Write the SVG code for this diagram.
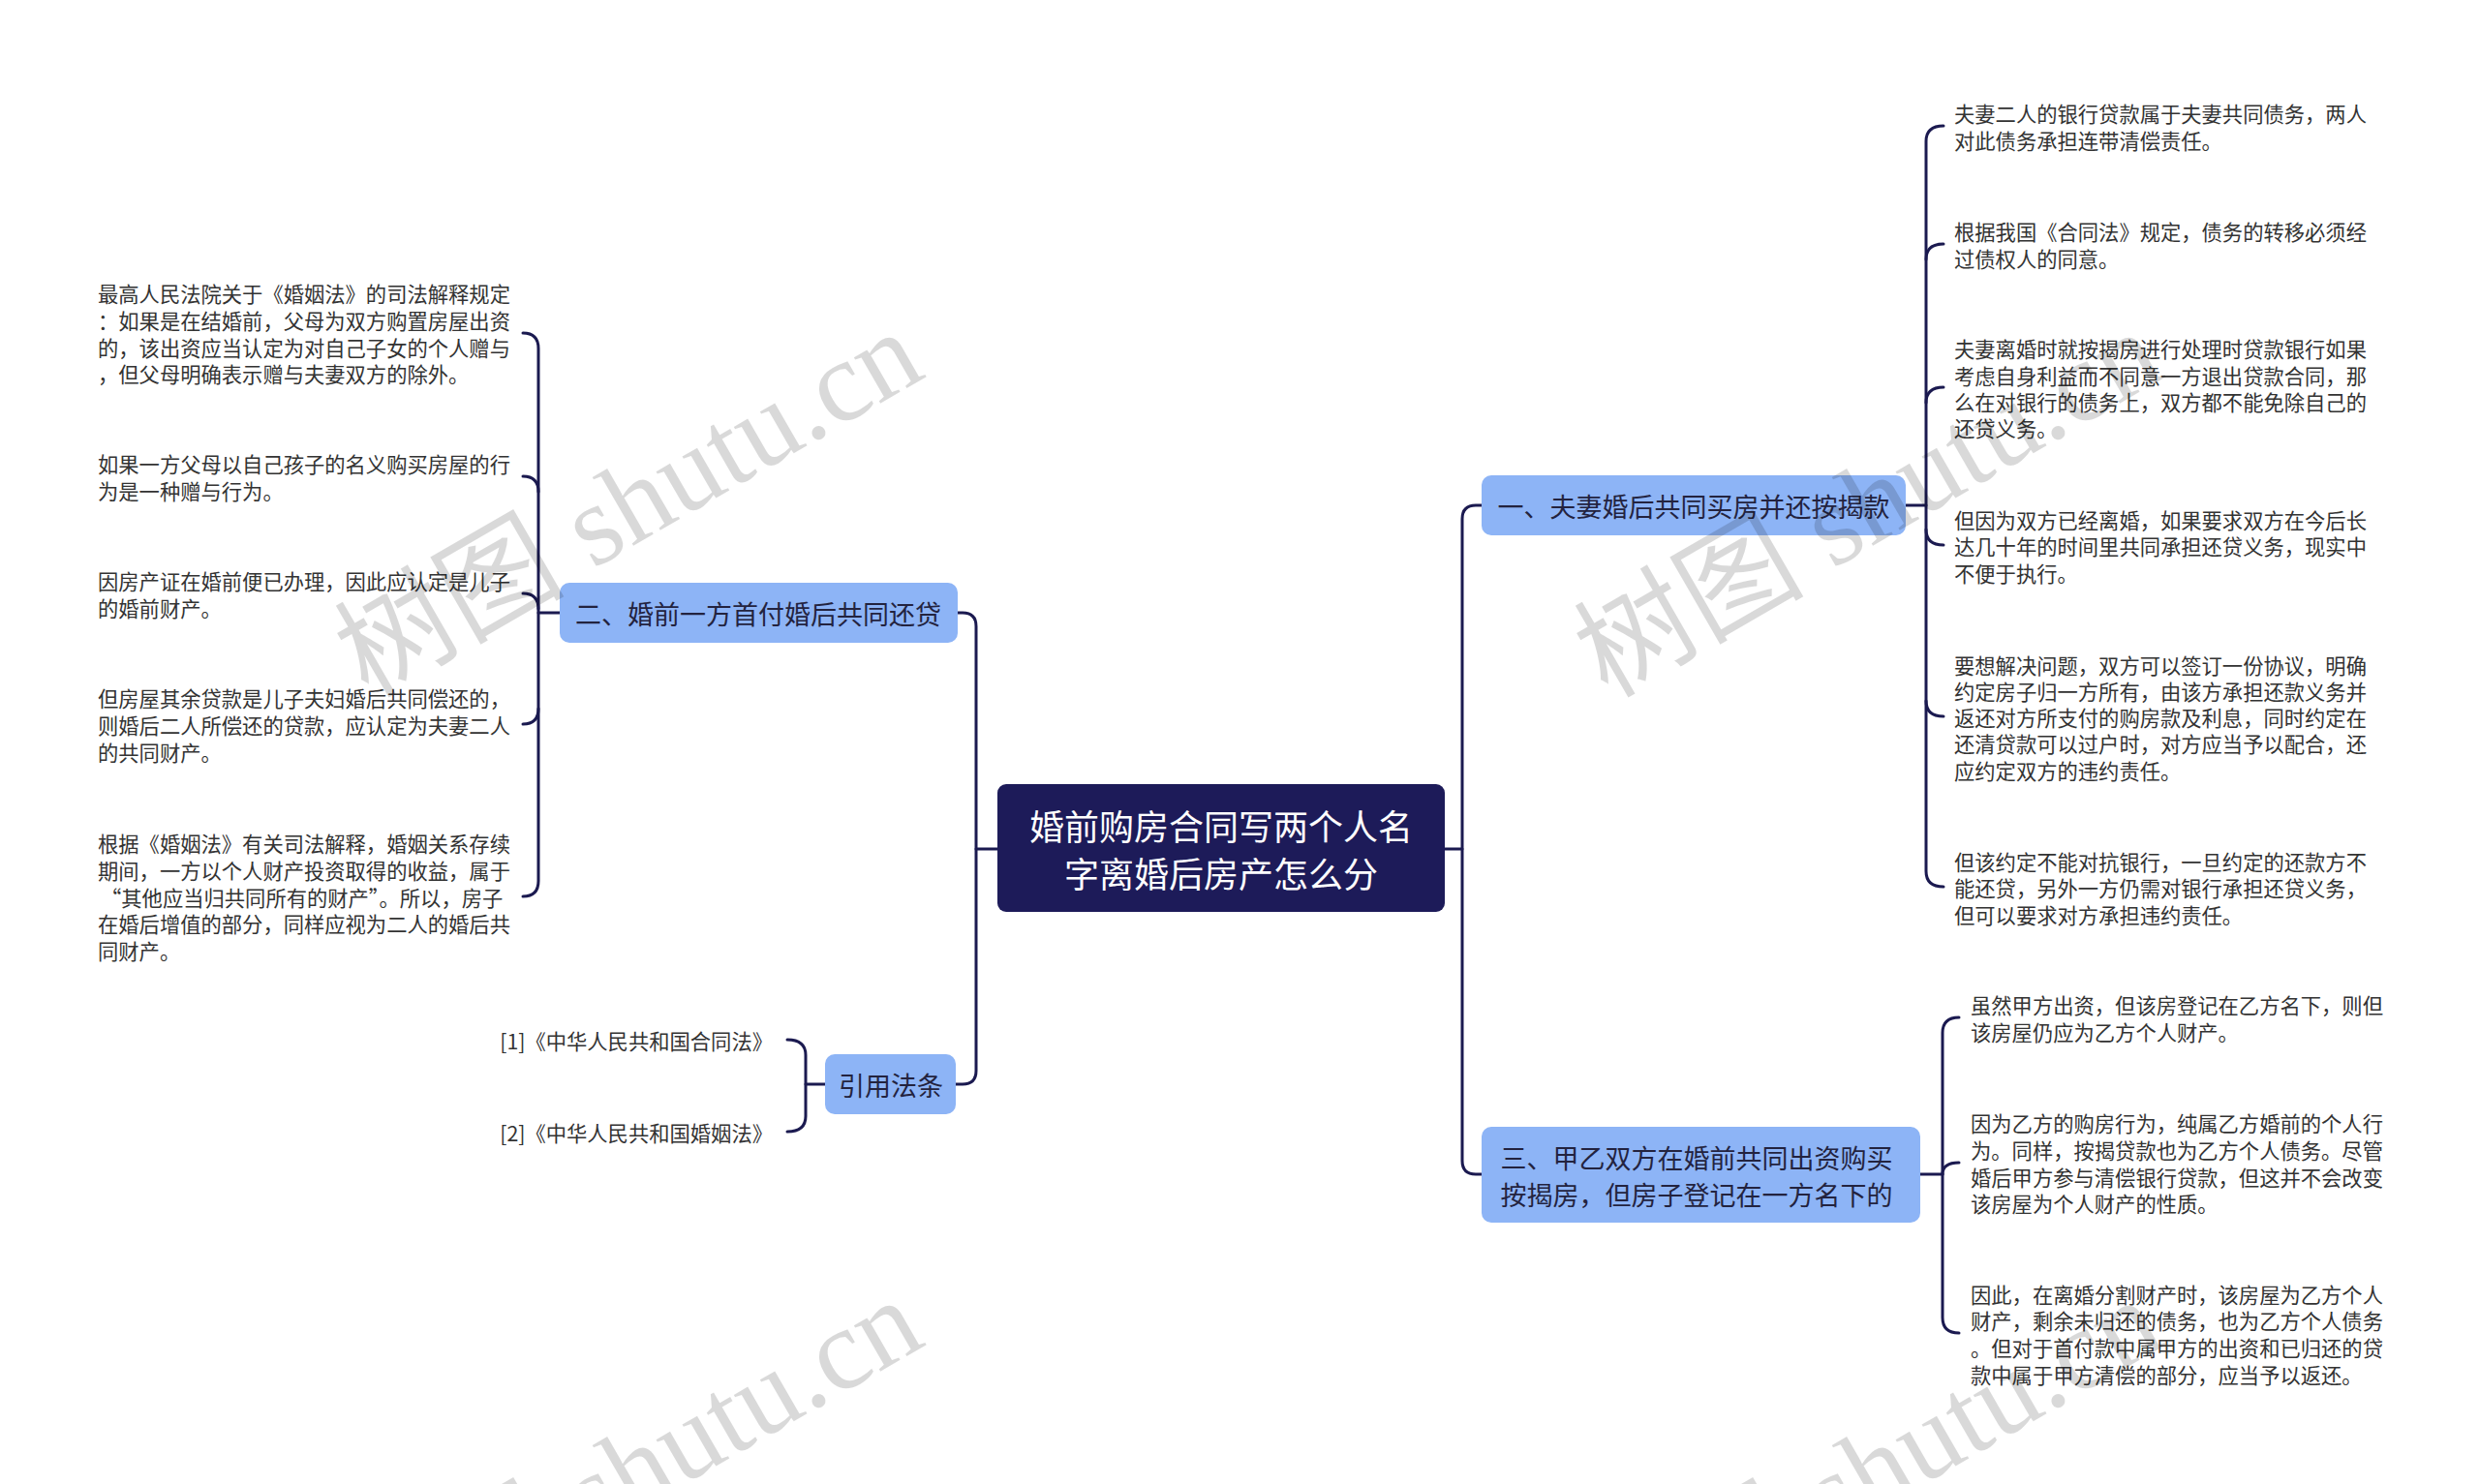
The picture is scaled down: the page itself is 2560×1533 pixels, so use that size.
<svg xmlns="http://www.w3.org/2000/svg" width="2560" height="1533" viewBox="0 0 2560 1533">
<style>
.bg{fill:#ffffff}
.conn{fill:none;stroke:#1b1a50;stroke-width:3;stroke-linecap:round}
.root rect{fill:#1d1b59}
.root text{fill:#ffffff;font-family:"Noto Sans CJK SC","Noto Sans",sans-serif;font-size:36px;text-anchor:middle;dominant-baseline:central}
.sub rect{fill:#8db4f6}
.sub text{fill:#23233f;font-family:"Noto Sans CJK SC","Noto Sans",sans-serif;font-size:27px;text-anchor:middle;dominant-baseline:central}
.leaf text{fill:#333333;font-family:"Noto Sans CJK SC","Noto Sans",sans-serif;font-size:21.3px;dominant-baseline:central}
.ref text{fill:#333333;font-family:"Noto Sans CJK SC","Noto Sans",sans-serif;font-size:21.3px;dominant-baseline:central;text-anchor:end}
.wm text{fill:#000000;fill-opacity:0.15;font-family:"Liberation Serif","Noto Sans CJK SC",serif;font-size:119px}
</style>
<rect class="bg" x="0" y="0" width="2560" height="1533"/>

<g id="connectors">
  <path class="conn" d="M1030 877 L1008 877"/>
  <path class="conn" d="M989 633 L994 633 Q1008 633 1008 647 L1008 1106 Q1008 1120 994 1120 L987 1120"/>
  <path class="conn" d="M1492 877 L1510 877"/>
  <path class="conn" d="M1530 522 L1524 522 Q1510 522 1510 536 L1510 1199 Q1510 1213 1524 1213 L1530 1213"/>
  <path class="conn" d="M578 633 L556 633"/>
  <path class="conn" d="M540 344 Q556 344 556 360 L556 910 Q556 926 540 926"/>
  <path class="conn" d="M540 492 Q556 492 556 508"/>
  <path class="conn" d="M540 613 Q556 613 556 629"/>
  <path class="conn" d="M540 748 Q556 748 556 732"/>
  <path class="conn" d="M852 1120 L832 1120"/>
  <path class="conn" d="M813 1074 Q832 1074 832 1090 L832 1153 Q832 1169 813 1169"/>
  <path class="conn" d="M1968 522 L1989 522"/>
  <path class="conn" d="M2007 130 Q1989 130 1989 146 L1989 900 Q1989 916 2007 916"/>
  <path class="conn" d="M2007 252 Q1989 252 1989 268"/>
  <path class="conn" d="M2007 400 Q1989 400 1989 416"/>
  <path class="conn" d="M2007 563 Q1989 563 1989 547"/>
  <path class="conn" d="M2007 740 Q1989 740 1989 724"/>
  <path class="conn" d="M1983 1213 L2006 1213"/>
  <path class="conn" d="M2023 1051 Q2006 1051 2006 1067 L2006 1361 Q2006 1377 2023 1377"/>
  <path class="conn" d="M2023 1201 Q2006 1201 2006 1213"/>
</g>

<g id="root" class="root">
  <rect x="1030" y="810" width="462" height="132" rx="9"/>
  <text x="1261" y="852">婚前购房合同写两个人名</text>
  <text x="1261" y="901">字离婚后房产怎么分</text>
</g>

<g id="node-er" class="sub">
  <rect x="578" y="602" width="411" height="62" rx="10"/>
  <text x="783" y="633">二、婚前一方首付婚后共同还贷</text>
</g>

<g id="node-ref" class="sub">
  <rect x="852" y="1089" width="135" height="62" rx="10"/>
  <text x="920" y="1120">引用法条</text>
</g>

<g id="node-yi" class="sub">
  <rect x="1530" y="491" width="438" height="62" rx="10"/>
  <text x="1749" y="522">一、夫妻婚后共同买房并还按揭款</text>
</g>

<g id="node-san" class="sub">
  <rect x="1530" y="1164" width="453" height="99" rx="10"/>
  <text x="1752" y="1195">三、甲乙双方在婚前共同出资购买</text>
  <text x="1752" y="1233">按揭房，但房子登记在一方名下的</text>
</g>

<g id="leaf-l1" class="leaf">
  <text x="101" y="302">最高人民法院关于《婚姻法》的司法解释规定</text>
  <text x="101" y="330">：如果是在结婚前，父母为双方购置房屋出资</text>
  <text x="101" y="358">的，该出资应当认定为对自己子女的个人赠与</text>
  <text x="101" y="385">，但父母明确表示赠与夫妻双方的除外。</text>
</g>
<g id="leaf-l2" class="leaf">
  <text x="101" y="478">如果一方父母以自己孩子的名义购买房屋的行</text>
  <text x="101" y="506">为是一种赠与行为。</text>
</g>
<g id="leaf-l3" class="leaf">
  <text x="101" y="599">因房产证在婚前便已办理，因此应认定是儿子</text>
  <text x="101" y="627">的婚前财产。</text>
</g>
<g id="leaf-l4" class="leaf">
  <text x="101" y="720">但房屋其余贷款是儿子夫妇婚后共同偿还的，</text>
  <text x="101" y="748">则婚后二人所偿还的贷款，应认定为夫妻二人</text>
  <text x="101" y="776">的共同财产。</text>
</g>
<g id="leaf-l5" class="leaf">
  <text x="101" y="870">根据《婚姻法》有关司法解释，婚姻关系存续</text>
  <text x="101" y="898">期间，一方以个人财产投资取得的收益，属于</text>
  <text x="104" y="926">“其他应当归共同所有的财产”。所以，房子</text>
  <text x="101" y="953">在婚后增值的部分，同样应视为二人的婚后共</text>
  <text x="101" y="981">同财产。</text>
</g>

<g id="ref-1" class="ref"><text x="798" y="1074">[1]《中华人民共和国合同法》</text></g>
<g id="ref-2" class="ref"><text x="798" y="1169">[2]《中华人民共和国婚姻法》</text></g>

<g id="leaf-r1" class="leaf">
  <text x="2018" y="116">夫妻二人的银行贷款属于夫妻共同债务，两人</text>
  <text x="2018" y="144">对此债务承担连带清偿责任。</text>
</g>
<g id="leaf-r2" class="leaf">
  <text x="2018" y="238">根据我国《合同法》规定，债务的转移必须经</text>
  <text x="2018" y="266">过债权人的同意。</text>
</g>
<g id="leaf-r3" class="leaf">
  <text x="2018" y="359">夫妻离婚时就按揭房进行处理时贷款银行如果</text>
  <text x="2018" y="387">考虑自身利益而不同意一方退出贷款合同，那</text>
  <text x="2018" y="414">么在对银行的债务上，双方都不能免除自己的</text>
  <text x="2018" y="441">还贷义务。</text>
</g>
<g id="leaf-r4" class="leaf">
  <text x="2018" y="536">但因为双方已经离婚，如果要求双方在今后长</text>
  <text x="2018" y="563">达几十年的时间里共同承担还贷义务，现实中</text>
  <text x="2018" y="591">不便于执行。</text>
</g>
<g id="leaf-r5" class="leaf">
  <text x="2018" y="686">要想解决问题，双方可以签订一份协议，明确</text>
  <text x="2018" y="713">约定房子归一方所有，由该方承担还款义务并</text>
  <text x="2018" y="740">返还对方所支付的购房款及利息，同时约定在</text>
  <text x="2018" y="767">还清贷款可以过户时，对方应当予以配合，还</text>
  <text x="2018" y="795">应约定双方的违约责任。</text>
</g>
<g id="leaf-r6" class="leaf">
  <text x="2018" y="889">但该约定不能对抗银行，一旦约定的还款方不</text>
  <text x="2018" y="916">能还贷，另外一方仍需对银行承担还贷义务，</text>
  <text x="2018" y="944">但可以要求对方承担违约责任。</text>
</g>
<g id="leaf-r7" class="leaf">
  <text x="2035" y="1037">虽然甲方出资，但该房登记在乙方名下，则但</text>
  <text x="2035" y="1065">该房屋仍应为乙方个人财产。</text>
</g>
<g id="leaf-r8" class="leaf">
  <text x="2035" y="1159">因为乙方的购房行为，纯属乙方婚前的个人行</text>
  <text x="2035" y="1187">为。同样，按揭贷款也为乙方个人债务。尽管</text>
  <text x="2035" y="1215">婚后甲方参与清偿银行贷款，但这并不会改变</text>
  <text x="2035" y="1242">该房屋为个人财产的性质。</text>
</g>
<g id="leaf-r9" class="leaf">
  <text x="2035" y="1336">因此，在离婚分割财产时，该房屋为乙方个人</text>
  <text x="2035" y="1363">财产，剩余未归还的债务，也为乙方个人债务</text>
  <text x="2035" y="1391">。但对于首付款中属甲方的出资和已归还的贷</text>
  <text x="2035" y="1419">款中属于甲方清偿的部分，应当予以返还。</text>
</g>

<g id="watermark" class="wm">
  <text transform="translate(380 722) rotate(-30)">树图 shutu.cn</text>
  <text transform="translate(1660 722) rotate(-30)">树图 shutu.cn</text>
  <text transform="translate(380 1722) rotate(-30)">树图 shutu.cn</text>
  <text transform="translate(1660 1722) rotate(-30)">树图 shutu.cn</text>
</g>
</svg>
